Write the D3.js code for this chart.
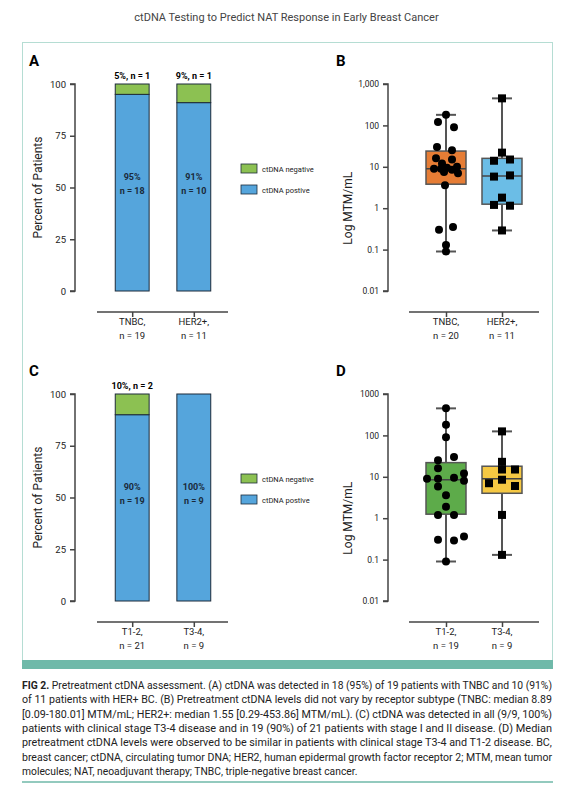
<!DOCTYPE html><html><head><meta charset="utf-8"><script src="https://cdn.jsdelivr.net/npm/d3@7"></script>
<style>body{margin:0;background:#fff;font-family:Roboto,Arial,sans-serif}</style></head><body>
<svg id="c" width="573" height="800"></svg>
<script>
const barCatsA=["TNBC,|n = 19","HER2+,|n = 11"], posA=[95,91], negA=[5,9], nPosA=[18,10], nNegA=[1,1];
const barCatsC=["T1-2,|n = 21","T3-4,|n = 9"], posC=[90,100], negC=[10,0], nPosC=[19,9], nNegC=[2,0];
const boxCatsB=["TNBC,|n = 20","HER2+,|n = 11"];
const tnbcVals=[180,120,90,30,25,16,15,12,10,9.5,9,9,8.5,7.5,7,3.6,0.35,0.3,0.13,0.09];
const tnbcJit=[0,-0.4,0.4,-0.45,0.3,-0.5,0.3,-0.2,0.55,0.05,-0.6,-0.25,0.3,-0.1,0.6,-0.05,0.35,-0.35,0,0];
const her2Vals=[450,22,15,14,6.2,5.8,1.8,1.2,1.15,0.29];
const her2Jit=[0,0,0.4,-0.4,0.4,-0.4,0,-0.4,0.4,0];
const tnbcBox=[0.09,3.8,9,24,180], her2Box=[0.29,1.25,6,16,450];
const boxCatsD=["T1-2,|n = 19","T3-4,|n = 9"];
const t12Vals=[450,180,90,30,25,16,12,9.5,9,9,8,5.8,3.6,1.9,1.2,1.2,0.36,0.3,0.29,0.09];
const t12Jit=[0,0,0,0.4,-0.4,-0.4,0.9,0.4,-0.95,-0.4,0.9,-0.4,0,0,-0.4,0.4,0.9,-0.4,0.4,0];
const t34Vals=[125,23,15,15,8.5,7,6,1.2,0.13];
const t34Jit=[0,0,0,0.65,0,-0.65,0.65,0,0];
const t12Box=[0.09,1.25,8.5,22,450], t34Box=[0.13,4,9,18,125];
const barTicks=[0,25,50,75,100];
const logTicksB=["0.01","0.1","1","10","100","1,000"], logTicksD=["0.01","0.1","1","10","100","1000"];
const logTickVals=[0.01,0.1,1,10,100,1000];

const svg=d3.select("#c");
const C={blue:"#55a5dc",green:"#8cc152",edge:"#1d2b3a",ax:"#444"};
svg.append("text").attr("x",286.5).attr("y",21).attr("text-anchor","middle").attr("font-size",11).attr("fill","#444").text("ctDNA Testing to Predict NAT Response in Early Breast Cancer");
svg.append("rect").attr("x",22.5).attr("y",42.5).attr("width",530).attr("height",618).attr("fill","none").attr("stroke","#b5ddd3");
svg.append("rect").attr("x",22).attr("y",660).attr("width",531).attr("height",9).attr("fill","#6fb9a9");
svg.append("line").attr("x1",22).attr("x2",553).attr("y1",782).attr("y2",782).attr("stroke","#6fb9a9").attr("stroke-width",1.5);
const cap=[["FIG 2.","  Pretreatment ctDNA assessment. (A) ctDNA was detected in 18 (95%) of 19 patients with TNBC and 10 (91%)"],
["","of 11 patients with HER+ BC. (B) Pretreatment ctDNA levels did not vary by receptor subtype (TNBC: median 8.89"],
["","[0.09-180.01] MTM/mL; HER2+: median 1.55 [0.29-453.86] MTM/mL). (C) ctDNA was detected in all (9/9, 100%)"],
["","patients with clinical stage T3-4 disease and in 19 (90%) of 21 patients with stage I and II disease. (D) Median"],
["","pretreatment ctDNA levels were observed to be similar in patients with clinical stage T3-4 and T1-2 disease. BC,"],
["","breast cancer; ctDNA, circulating tumor DNA; HER2, human epidermal growth factor receptor 2; MTM, mean tumor"],
["","molecules; NAT, neoadjuvant therapy; TNBC, triple-negative breast cancer."]];
cap.forEach((l,i)=>{const t=svg.append("text").attr("x",22).attr("y",689+i*14.3).attr("font-size",10.3).attr("fill","#222");
 if(i<6) t.attr("textLength",530).attr("lengthAdjust","spacingAndGlyphs");
 if(l[0]) t.append("tspan").attr("font-weight","bold").text(l[0]); t.append("tspan").text(l[1]);});

function xLabels(g,x,cats,y0){cats.forEach(c=>{const p=c.split("|");[0,1].forEach(k=>g.append("text").attr("x",x(c)).attr("y",y0+13+k*14).attr("text-anchor","middle").attr("font-size",9.5).attr("fill","#222").text(p[k]));});}

function barPanel(oy,lab,cats,pos,neg,np,nn){
 const g=svg.append("g");
 g.append("text").attr("x",29).attr("y",oy+24).attr("font-size",15).attr("font-weight","bold").text(lab);
 const y=d3.scaleLinear().domain([0,100]).range([oy+249,oy+42]);
 const x=d3.scaleBand().domain(cats).range([98,228]).paddingInner(0.45).paddingOuter(0.28);
 const ax=g.append("g").attr("transform","translate(75,0)").call(d3.axisLeft(y).tickValues(barTicks).tickSize(5).tickPadding(4));
 ax.select(".domain").attr("stroke",C.ax).attr("stroke-width",1.5).attr("d",`M-5,${y(0)}H0V${y(100)}H-5`);
 ax.selectAll("line").attr("stroke",C.ax).attr("stroke-width",1.5); ax.selectAll("text").attr("font-size",9.5).attr("fill","#222").attr("font-family","Roboto,Arial");
 g.append("text").attr("transform",`translate(42,${y(50)}) rotate(-90)`).attr("text-anchor","middle").attr("font-size",12).attr("fill","#222").text("Percent of Patients");
 cats.forEach((c,i)=>{
  g.append("rect").attr("x",x(c)).attr("width",x.bandwidth()).attr("y",y(pos[i])).attr("height",y(0)-y(pos[i])).attr("fill",C.blue).attr("stroke",C.edge).attr("stroke-width",1);
  if(neg[i]>0){g.append("rect").attr("x",x(c)).attr("width",x.bandwidth()).attr("y",y(100)).attr("height",y(pos[i])-y(100)).attr("fill",C.green).attr("stroke",C.edge).attr("stroke-width",1);
   g.append("text").attr("x",x(c)+x.bandwidth()/2).attr("y",y(100)-5).attr("text-anchor","middle").attr("font-size",9).attr("font-weight","bold").text(`${neg[i]}%, n = ${nn[i]}`);}
  const cx=x(c)+x.bandwidth()/2;
  g.append("text").attr("x",cx).attr("y",y(50)-8).attr("text-anchor","middle").attr("font-size",9).attr("font-weight","bold").attr("fill","#1a2a3a").text(pos[i]+"%");
  g.append("text").attr("x",cx).attr("y",y(50)+6).attr("text-anchor","middle").attr("font-size",9).attr("font-weight","bold").attr("fill","#1a2a3a").text("n = "+np[i]);
 });
 const xa=g.append("g").attr("transform",`translate(0,${oy+270})`).call(d3.axisBottom(d3.scalePoint().domain(cats).range([x(cats[0])+x.bandwidth()/2,x(cats[1])+x.bandwidth()/2])).tickSize(5).tickFormat(""));
 xa.select(".domain").attr("d","M97,0H228").attr("stroke",C.ax).attr("stroke-width",1.5); xa.selectAll("line").attr("stroke",C.ax).attr("stroke-width",1.5);
 xLabels(g,c=>x(c)+x.bandwidth()/2,cats,oy+270);
 [["ctDNA negative",C.green],["ctDNA postive",C.blue]].forEach((d,i)=>{
  g.append("rect").attr("x",241).attr("y",oy+122+i*21).attr("width",16).attr("height",9).attr("fill",d[1]).attr("stroke",C.edge).attr("stroke-width",0.8);
  g.append("text").attr("x",262).attr("y",oy+130+i*21).attr("font-size",7.5).attr("fill","#222").text(d[0]);});
}
barPanel(42,"A",barCatsA,posA,negA,nPosA,nNegA);
barPanel(352,"C",barCatsC,posC,negC,nPosC,nNegC);

function boxPanel(oy,lab,cats,ticks,sets){
 const g=svg.append("g");
 g.append("text").attr("x",336).attr("y",oy+24).attr("font-size",15).attr("font-weight","bold").text(lab);
 const y=d3.scaleLog().domain([0.01,1000]).range([oy+249,oy+42]);
 const x=d3.scalePoint().domain(cats).range([446,502]);
 const ax=g.append("g").attr("transform","translate(388,0)").call(d3.axisLeft(y).tickValues(logTickVals).tickFormat((d,i)=>ticks[i]).tickSize(5).tickPadding(4));
 ax.select(".domain").attr("stroke",C.ax).attr("stroke-width",1.5).attr("d",`M-5,${y(0.01)}H0V${y(1000)}H-5`);
 ax.selectAll("line").attr("stroke",C.ax).attr("stroke-width",1.5); ax.selectAll("text").attr("font-size",8.5).attr("fill","#222").attr("font-family","Roboto,Arial");
 g.append("text").attr("transform",`translate(352,${y(1)}) rotate(-90)`).attr("text-anchor","middle").attr("font-size",12).attr("fill","#222").text("Log MTM/mL");
 sets.forEach((s,i)=>{const cx=x(cats[i]),w=20,b=s.box;
  g.append("line").attr("x1",cx).attr("x2",cx).attr("y1",y(b[0])).attr("y2",y(b[4])).attr("stroke","#555").attr("stroke-width",2);
  [b[0],b[4]].forEach(v=>g.append("line").attr("x1",cx-10).attr("x2",cx+10).attr("y1",y(v)).attr("y2",y(v)).attr("stroke","#555").attr("stroke-width",2));
  g.append("rect").attr("x",cx-w).attr("width",2*w).attr("y",y(b[3])).attr("height",y(b[1])-y(b[3])).attr("fill",s.col).attr("stroke","#555").attr("stroke-width",1.5);
  g.append("line").attr("x1",cx-w).attr("x2",cx+w).attr("y1",y(b[2])).attr("y2",y(b[2])).attr("stroke","#444").attr("stroke-width",1.5);
  s.vals.forEach((v,j)=>{const px=cx+s.jit[j]*w, py=y(v);
   if(s.sq) g.append("rect").attr("x",px-4).attr("y",py-4).attr("width",8).attr("height",8).attr("fill","#000");
   else g.append("circle").attr("cx",px).attr("cy",py).attr("r",4).attr("fill","#000");});
 });
 const xa=g.append("g").attr("transform",`translate(0,${oy+270})`).call(d3.axisBottom(x).tickSize(5).tickFormat(""));
 xa.select(".domain").attr("d","M409,0H539").attr("stroke",C.ax).attr("stroke-width",1.5); xa.selectAll("line").attr("stroke",C.ax).attr("stroke-width",1.5);
 xLabels(g,x,cats,oy+270);
}
boxPanel(42,"B",boxCatsB,logTicksB,[{vals:tnbcVals,jit:tnbcJit,box:tnbcBox,col:"#e67d35"},{vals:her2Vals,jit:her2Jit,box:her2Box,col:"#6bbde6",sq:true}]);
boxPanel(352,"D",boxCatsD,logTicksD,[{vals:t12Vals,jit:t12Jit,box:t12Box,col:"#5dab4a"},{vals:t34Vals,jit:t34Jit,box:t34Box,col:"#f5c843",sq:true}]);
</script></body></html>
